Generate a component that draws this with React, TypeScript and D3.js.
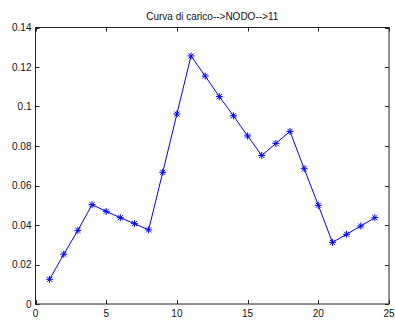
import React, { useEffect, useRef } from 'react';
import * as d3 from 'd3';

const title = 'Curva di carico-->NODO-->11';
const hours = [1, 2, 3, 4, 5, 6, 7, 8, 9, 10, 11, 12, 13, 14, 15, 16, 17, 18, 19, 20, 21, 22, 23, 24];
const loads = [
  0.0125, 0.0252, 0.0373, 0.0503, 0.0469, 0.0437, 0.0407, 0.0375, 0.0667, 0.0962, 0.1256, 0.1154,
  0.105, 0.0953, 0.0851, 0.0752, 0.0813, 0.0874, 0.0685, 0.05, 0.0312, 0.0353, 0.0395, 0.0437,
];
const xTicks = [0, 5, 10, 15, 20, 25];
const yTicks = [0, 0.02, 0.04, 0.06, 0.08, 0.1, 0.12, 0.14];

export default function App() {
  const svgRef = useRef<SVGSVGElement>(null);

  useEffect(() => {
    if (!svgRef.current) return;
    const W = 395;
    const H = 322;
    const margin = { top: 27.5, right: 6, bottom: 18, left: 35.5 };

    const svg = d3.select(svgRef.current);
    svg.selectAll('*').remove();

    const x = d3.scaleLinear().domain([0, 25]).range([margin.left, W - margin.right]);
    const y = d3.scaleLinear().domain([0, 0.14]).range([H - margin.bottom, margin.top]);

    svg.append('rect').attr('width', W).attr('height', H).attr('fill', '#fff');

    const font = 'Liberation Sans, Arial, sans-serif';
    const tick = 4;
    const g = svg.append('g').attr('stroke', '#222').attr('stroke-width', 1).attr('fill', 'none');

    // box
    g.append('rect')
      .attr('x', x(0))
      .attr('y', y(0.14))
      .attr('width', x(25) - x(0))
      .attr('height', y(0) - y(0.14));

    // ticks on all four sides, pointing in
    xTicks.forEach((t) => {
      const px = Math.round(x(t)) + 0.5;
      g.append('line').attr('x1', px).attr('x2', px).attr('y1', y(0)).attr('y2', y(0) - tick);
      g.append('line').attr('x1', px).attr('x2', px).attr('y1', y(0.14)).attr('y2', y(0.14) + tick);
    });
    yTicks.forEach((t) => {
      const py = Math.round(y(t)) + 0.5;
      g.append('line').attr('x1', x(0)).attr('x2', x(0) + tick).attr('y1', py).attr('y2', py);
      g.append('line').attr('x1', x(25)).attr('x2', x(25) - tick).attr('y1', py).attr('y2', py);
    });

    const labels = svg.append('g').attr('font-family', font).attr('font-size', 10).attr('fill', '#111');

    labels
      .selectAll('text.xl')
      .data(xTicks)
      .enter()
      .append('text')
      .attr('x', (d) => x(d))
      .attr('y', y(0) + 12.5)
      .attr('text-anchor', 'middle')
      .text((d) => d3.format('')(d));

    labels
      .selectAll('text.yl')
      .data(yTicks)
      .enter()
      .append('text')
      .attr('x', x(0) - 4)
      .attr('y', (d) => y(d))
      .attr('dy', '0.35em')
      .attr('text-anchor', 'end')
      .text((d) => String(+d.toFixed(2)));

    labels
      .append('text')
      .attr('x', (x(0) + x(25)) / 2)
      .attr('y', 19.5)
      .attr('text-anchor', 'middle')
      .text(title);

    const pts = hours.map((h, i) => [h, loads[i]] as [number, number]);
    const line = d3
      .line<[number, number]>()
      .x((d) => x(d[0]))
      .y((d) => y(d[1]));

    svg
      .append('path')
      .datum(pts)
      .attr('fill', 'none')
      .attr('stroke', '#0000ff')
      .attr('stroke-width', 1)
      .attr('d', line);

    // asterisk markers
    const r = 3.5;
    const d2 = r * 0.72;
    const star = svg.append('g').attr('stroke', '#0000ff').attr('stroke-width', 1);
    pts.forEach(([h, v]) => {
      const cx = x(h);
      const cy = y(v);
      star.append('line').attr('x1', cx - r).attr('x2', cx + r).attr('y1', cy).attr('y2', cy);
      star.append('line').attr('x1', cx).attr('x2', cx).attr('y1', cy - r).attr('y2', cy + r);
      star.append('line').attr('x1', cx - d2).attr('x2', cx + d2).attr('y1', cy - d2).attr('y2', cy + d2);
      star.append('line').attr('x1', cx - d2).attr('x2', cx + d2).attr('y1', cy + d2).attr('y2', cy - d2);
    });
  }, []);

  return (
    <svg
      ref={svgRef}
      width={395}
      height={322}
      style={{ position: 'absolute', left: 0, top: 0, display: 'block' }}
    />
  );
}
